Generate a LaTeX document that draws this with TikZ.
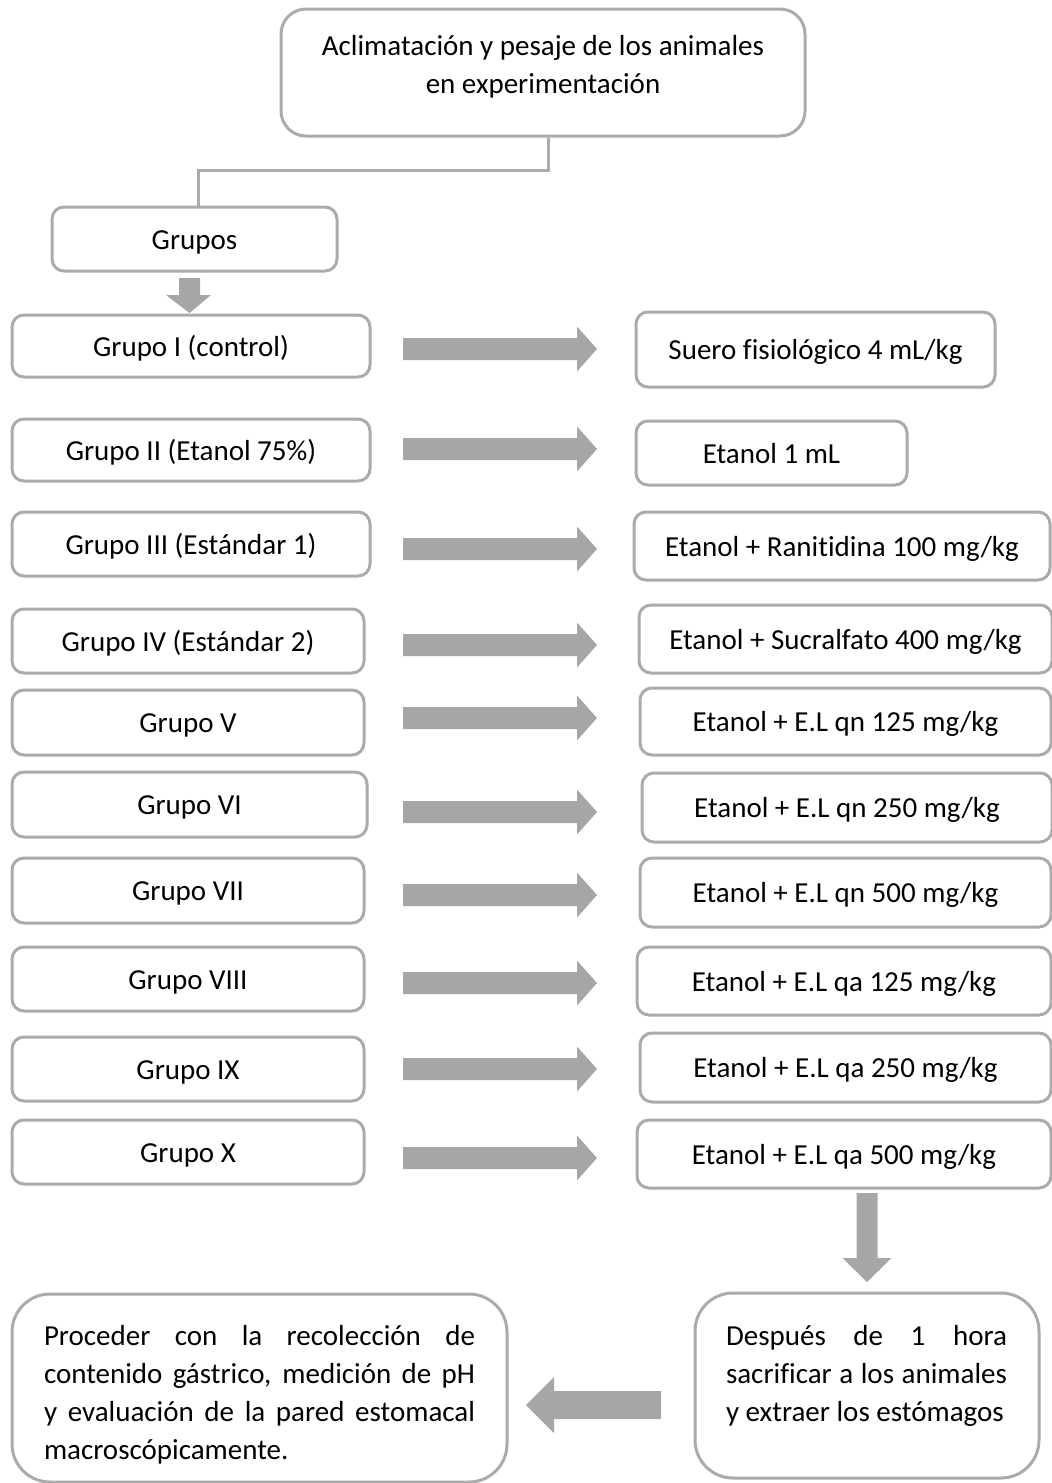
\documentclass[tikz,border=0pt]{standalone}
\usepackage{fontspec}
\setmainfont{Carlito}[Ligatures=NoCommon]
\definecolor{bordergray}{HTML}{ABABAB}
\definecolor{arrowgray}{HTML}{A6A6A6}
\newcommand\nohyph{\hyphenpenalty10000\relax\exhyphenpenalty10000\relax}
\begin{document}
\begin{tikzpicture}[x=1pt,y=-1pt,
  box/.style={draw=bordergray, line width=3pt, rounded corners=12pt, inner sep=0pt, fill=white,
    font=\fontsize{29}{38}\selectfont, text height=24pt, text depth=4pt},
  bigbox/.style={draw=bordergray, line width=3pt, rounded corners=38pt, inner sep=0pt, fill=white},
  txt/.style={inner sep=0pt, font=\fontsize{29}{38}\selectfont\nohyph},
  conn/.style={draw=bordergray, line width=3pt},
  pics/rarrow/.style={code={\fill[arrowgray] (0,-11) -- (174,-11) -- (174,-22.5) -- (194,0) -- (174,22.5) -- (174,11) -- (0,11) -- cycle;}}
]
\useasboundingbox (0,0) rectangle (1052,1483);

% top box
\node[bigbox, rounded corners=25pt, minimum width=524pt, minimum height=127pt] (top) at (543,72.5) {};
\node[txt, align=center] (toptxt) at (543,67) {Aclimatación y pesaje de los animales\\en experimentación};

\node[box, minimum width=285pt, minimum height=64pt] (grupos) at (194.5,239) {Grupos};
\draw[conn] ([xshift=5pt]top.south) -- ++(0,33) -| ([xshift=3.5pt]grupos.north);

% down arrow under Grupos
\fill[arrowgray] (179,278) -- (200,278) -- (200,295) -- (211,295) -- (189.5,313) -- (166,295) -- (179,295) -- cycle;

% left column
\node[box, minimum width=358pt, minimum height=62pt] (g1) at (191,346) {Grupo I (control)};
\node[box, minimum width=358pt, minimum height=62pt] (g2) at (191,450) {Grupo II (Etanol 75\%)};
\node[box, minimum width=358pt, minimum height=64pt] (g3) at (191,544) {Grupo III (Estándar 1)};
\node[box, minimum width=352pt, minimum height=64pt] (g4) at (188,641) {Grupo IV (Estándar 2)};
\node[box, minimum width=352pt, minimum height=65pt] (g5) at (188,722.5) {Grupo V};
\node[box, minimum width=355pt, minimum height=65pt] (g6) at (189.5,804.5) {Grupo VI};
\node[box, minimum width=352pt, minimum height=65pt] (g7) at (188,890.5) {Grupo VII};
\node[box, minimum width=352pt, minimum height=64pt] (g8) at (188,979) {Grupo VIII};
\node[box, minimum width=352pt, minimum height=64pt] (g9) at (188,1069) {Grupo IX};
\node[box, minimum width=352pt, minimum height=64pt] (g10) at (188,1152) {Grupo X};

% right column
\node[box, minimum width=359pt, minimum height=75pt] (r1) at (815.5,349.5) {Suero fisiológico 4 mL/kg};
\node[box, minimum width=271pt, minimum height=64pt] (r2) at (771.5,453) {Etanol 1 mL};
\node[box, minimum width=416pt, minimum height=68pt] (r3) at (842,546) {Etanol + Ranitidina 100 mg/kg};
\node[box, minimum width=413pt, minimum height=68pt] (r4) at (845.5,639) {Etanol + Sucralfato 400 mg/kg};
\node[box, minimum width=411pt, minimum height=67pt] (r5) at (845.5,721.5) {Etanol + E.L qn 125 mg/kg};
\node[box, minimum width=410pt, minimum height=69pt] (r6) at (847,807.5) {Etanol + E.L qn 250 mg/kg};
\node[box, minimum width=411pt, minimum height=69pt] (r7) at (845.5,892.5) {Etanol + E.L qn 500 mg/kg};
\node[box, minimum width=414pt, minimum height=68pt] (r8) at (844,981) {Etanol + E.L qa 125 mg/kg};
\node[box, minimum width=411pt, minimum height=69pt] (r9) at (845.5,1067.5) {Etanol + E.L qa 250 mg/kg};
\node[box, minimum width=414pt, minimum height=68pt] (r10) at (844,1154) {Etanol + E.L qa 500 mg/kg};

% horizontal block arrows
\pic at (403,349) {rarrow};
\pic at (403,449) {rarrow};
\pic at (403,549) {rarrow};
\pic at (403,645) {rarrow};
\pic at (403,718) {rarrow};
\pic at (403,812) {rarrow};
\pic at (403,895) {rarrow};
\pic at (403,983) {rarrow};
\pic at (403,1069) {rarrow};
\pic at (403,1158) {rarrow};

% down arrow on right
\fill[arrowgray] (856.5,1193) -- (877.5,1193) -- (877.5,1258) -- (891.5,1258) -- (867,1282) -- (842.5,1258) -- (856.5,1258) -- cycle;

% bottom boxes
\node[bigbox, minimum width=344pt, minimum height=185pt] (after) at (867,1385.5) {};
\node[txt, text width=281pt, align=justify] (aftertxt) at (866.5,1376) {Después de 1 hora\linebreak sacrificar a los animales\linebreak y extraer los estómagos};

\node[bigbox, minimum width=495pt, minimum height=188pt] (proc) at (259.5,1388) {};
\node[txt, text width=431pt, align=justify] (proctxt) at (259.5,1395) {Proceder con la recolección de\linebreak contenido gástrico, medición de pH\linebreak y evaluación de la pared estomacal\linebreak macroscópicamente.};

% left block arrow
\fill[arrowgray] (661,1391) -- (554,1391) -- (554,1377) -- (526,1405) -- (554,1433) -- (554,1419) -- (661,1419) -- cycle;
\end{tikzpicture}
\end{document}
